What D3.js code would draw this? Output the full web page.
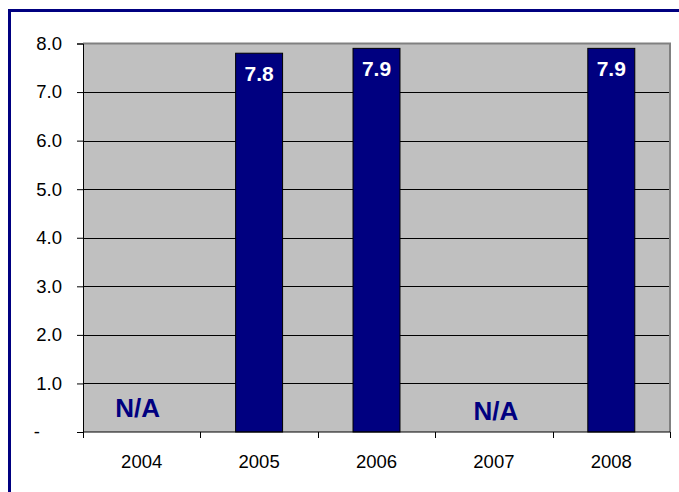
<!DOCTYPE html>
<html>
<head>
<meta charset="utf-8">
<script src="https://cdn.jsdelivr.net/npm/d3@7"></script>
<style>
  html, body { margin: 0; padding: 0; background: #fff; overflow: hidden; }
  svg { display: block; }
  text { font-family: "Liberation Sans", Arial, sans-serif; }
</style>
</head>
<body>
<svg id="chart" width="679" height="492"></svg>
<script>
const years = ["2004", "2005", "2006", "2007", "2008"];
const values = [null, 7.8, 7.9, null, 7.9];
const yTicks = [0, 1, 2, 3, 4, 5, 6, 7, 8];
const naLabel = "N/A";

const svg = d3.select("#chart");
const m = { left: 83, right: 670, top: 43.5, bottom: 432 };

// outer navy frame (only left and top visible)
svg.append("path")
  .attr("d", "M9.5,492 V10.5 H679")
  .attr("fill", "none")
  .attr("stroke", "#000080").attr("stroke-width", 3);

const x = d3.scaleBand().domain(years).range([m.left, m.right]).paddingInner(0.6).paddingOuter(0.3);
const xb = d3.scaleBand().domain(years).range([m.left, m.right]);
const y = d3.scaleLinear().domain([0, 8]).range([m.bottom, m.top]);

// plot area
svg.append("rect")
  .attr("x", m.left).attr("y", m.top)
  .attr("width", m.right - m.left).attr("height", m.bottom - m.top)
  .attr("fill", "#C0C0C0");

// gridlines
svg.append("g").selectAll("line")
  .data(yTicks.filter(d => d > 0 && d < 8))
  .join("line")
  .attr("x1", m.left).attr("x2", m.right)
  .attr("y1", d => Math.round(y(d)) + 0.5).attr("y2", d => Math.round(y(d)) + 0.5)
  .attr("stroke", "#000").attr("stroke-width", 1);

// plot border top/right gray
svg.append("path")
  .attr("d", `M${m.left},${m.top} H${m.right} V${m.bottom}`)
  .attr("fill", "none").attr("stroke", "#808080").attr("stroke-width", 2);

// bars
const barData = years.map((yr, i) => ({ yr, v: values[i] })).filter(d => d.v != null);
svg.append("g").selectAll("rect")
  .data(barData)
  .join("rect")
  .attr("x", d => x(d.yr)).attr("y", d => y(d.v))
  .attr("width", x.bandwidth()).attr("height", d => y(0) - y(d.v))
  .attr("fill", "#000080").attr("stroke", "#000").attr("stroke-width", 1);

// value labels
svg.append("g").selectAll("text")
  .data(barData)
  .join("text")
  .attr("x", d => x(d.yr) + x.bandwidth() / 2)
  .attr("y", d => y(d.v) + 27.5)
  .attr("text-anchor", "middle")
  .attr("fill", "#fff").attr("font-weight", "bold").attr("font-size", "21px")
  .text(d => d.v.toFixed(1));

// N/A labels
const naOffsets = { "2004": [-4, 417], "2007": [2, 420] };
svg.append("g").selectAll("text")
  .data(years.filter((yr, i) => values[i] == null))
  .join("text")
  .attr("x", d => xb(d) + xb.bandwidth() / 2 + naOffsets[d][0])
  .attr("y", d => naOffsets[d][1])
  .attr("text-anchor", "middle")
  .attr("fill", "#000080").attr("font-weight", "bold").attr("font-size", "26px")
  .text(naLabel);

// y axis
const yAxis = d3.axisLeft(y).tickValues(yTicks).tickSize(6).tickPadding(15)
  .tickFormat(d => d === 0 ? "-" : d.toFixed(1));
const gy = svg.append("g").attr("transform", `translate(${m.left},0)`).call(yAxis);
gy.select(".domain").attr("stroke", "#000");
gy.selectAll(".tick line").attr("stroke", "#000");
gy.selectAll(".tick text").attr("font-size", "18.5px").attr("fill", "#000")
  .attr("font-family", "'Liberation Sans', Arial, sans-serif");
gy.selectAll(".tick").filter(d => d === 0).select("text").attr("x", -43);

// x axis
const xAxis = d3.axisBottom(xb).tickSize(0).tickPadding(23);
const gx = svg.append("g").attr("transform", `translate(0,${m.bottom})`).call(xAxis);
gx.select(".domain").attr("stroke", "#000").attr("d", `M${m.left},0H${m.right}`);
gx.selectAll(".tick text").attr("font-size", "18.5px").attr("fill", "#000")
  .attr("font-family", "'Liberation Sans', Arial, sans-serif");
const bounds = years.map(d => xb(d)).concat([m.right]);
gx.append("g").selectAll("line").data(bounds).join("line")
  .attr("x1", d => Math.round(d) + 0.5).attr("x2", d => Math.round(d) + 0.5)
  .attr("y1", 0).attr("y2", 6).attr("stroke", "#000");
</script>
</body>
</html>
